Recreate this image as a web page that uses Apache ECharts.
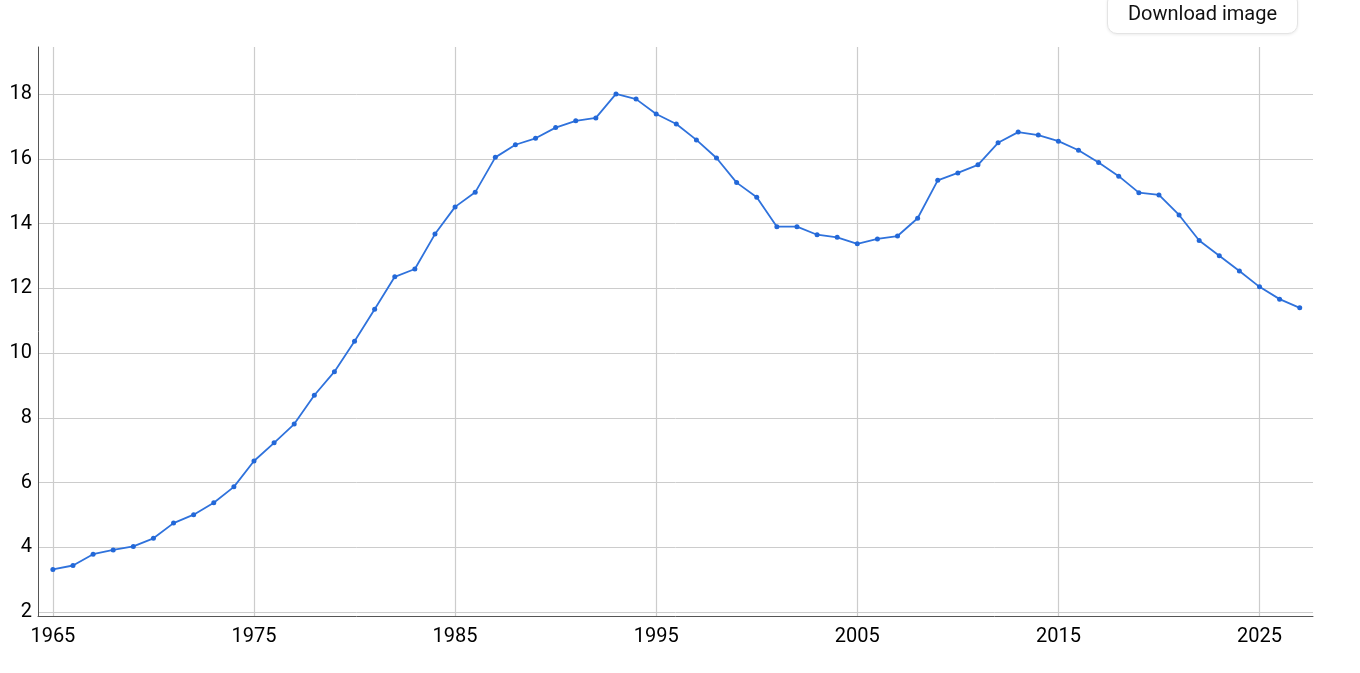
<!DOCTYPE html>
<html>
<head>
<meta charset="utf-8">
<script src="https://cdn.jsdelivr.net/npm/echarts@6/dist/echarts.min.js"></script>
<style>
  html, body { margin: 0; padding: 0; background: #fff; }
  #chart { width: 1360px; height: 673px; }
  .dl-btn {
    position: absolute; left: 1107px; top: -8px; width: 191px; height: 42px;
    box-sizing: border-box; border: 1px solid #e4e4e4; border-radius: 10px;
    background: #fff; box-shadow: 0 1px 3px rgba(0,0,0,0.08);
    font-family: Roboto, sans-serif; font-size: 20px; color: #111;
    text-align: center; line-height: 40px;
  }
</style>
</head>
<body>
<div id="chart"></div>
<div class="dl-btn">Download image</div>
<script>
// 年份（横轴）
var years = [];
for (var y = 1965; y <= 2027; y++) years.push(y);

// 数值，从图上读出来的
var values = [
  3.32, 3.44, 3.79, 3.92, 4.03, 4.28, 4.75, 5.01, 5.38, 5.87,
  6.67, 7.23, 7.81, 8.70, 9.43, 10.37, 11.36, 12.36, 12.60, 13.68,
  14.52, 14.97, 16.05, 16.44, 16.64, 16.97, 17.18, 17.27, 18.01, 17.85,
  17.39, 17.08, 16.59, 16.03, 15.27, 14.82, 13.91, 13.91, 13.66, 13.58,
  13.38, 13.53, 13.62, 14.17, 15.34, 15.57, 15.82, 16.50, 16.83, 16.74,
  16.55, 16.27, 15.89, 15.47, 14.96, 14.89, 14.27, 13.48, 13.01, 12.54,
  12.05, 11.67, 11.40
];

// 刻度
var xTicks = [1965, 1975, 1985, 1995, 2005, 2015, 2025];
var yTicks = [2, 4, 6, 8, 10, 12, 14, 16, 18];

var chart = echarts.init(document.getElementById('chart'));
chart.setOption({
  animation: false,
  grid: { left: 38, right: 47, top: 47, bottom: 57, containLabel: false },
  xAxis: {
    type: 'value',
    min: 1964.26,
    max: 2027.66,
    axisLine: { show: true, lineStyle: { color: '#555', width: 1 } },
    axisTick: { show: false, customValues: xTicks },
    axisLabel: {
      customValues: xTicks,
      formatter: function (v) { return String(v); },
      color: '#000', fontSize: 20, margin: 11,
      fontFamily: 'Roboto'
    },
    splitLine: { show: true, lineStyle: { color: '#ccc', width: 1.2 } }
  },
  yAxis: {
    type: 'value',
    min: 1.88,
    max: 19.46,
    axisLine: { show: true, lineStyle: { color: '#555', width: 1 } },
    axisTick: { show: false, customValues: yTicks },
    axisLabel: {
      customValues: yTicks,
      color: '#000', fontSize: 20, margin: 6,
      fontFamily: 'Roboto'
    },
    splitLine: { show: true, lineStyle: { color: '#ccc', width: 1 } }
  },
  series: [{
    type: 'line',
    data: years.map(function (yr, i) { return [yr, values[i]]; }),
    symbol: 'circle',
    symbolSize: 5,
    itemStyle: { color: '#2368d8' },
    lineStyle: { color: '#2f72dc', width: 1.8 }
  }]
});
</script>
</body>
</html>
